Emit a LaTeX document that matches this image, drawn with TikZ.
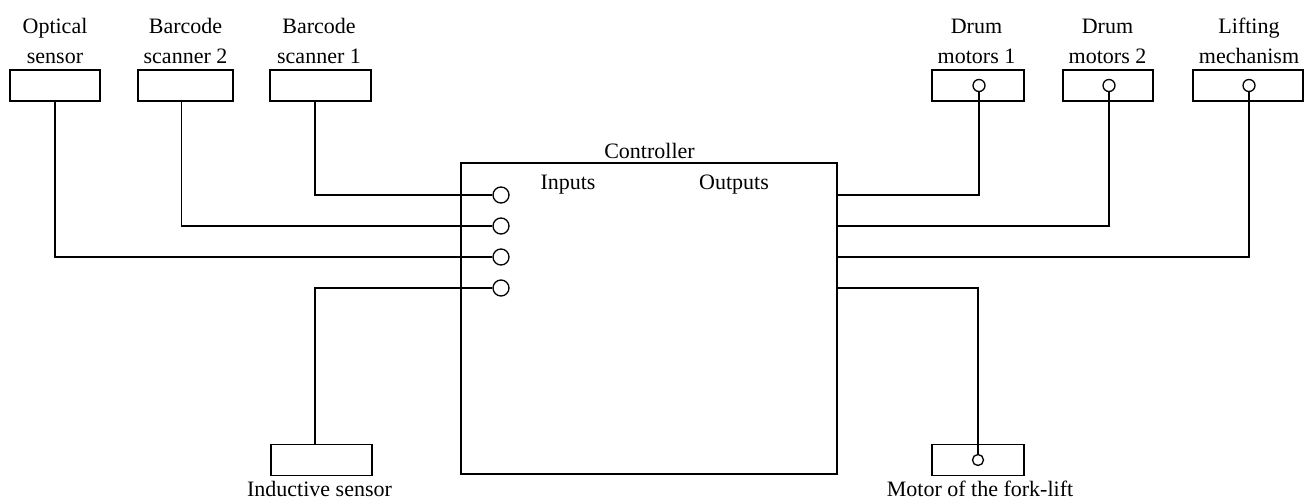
\documentclass[tikz,border=0pt]{standalone}
\usepackage{fontspec}
\setmainfont{Liberation Serif}
\begin{document}
\begin{tikzpicture}[x=1pt,y=-1pt,
  every node/.style={font=\fontsize{22}{30}\selectfont},
  box/.style={draw, line width=1.4pt, minimum height=31pt, inner sep=0pt},
  port/.style={draw, circle, line width=1.3pt, inner sep=0pt},
  wire/.style={line width=1.4pt},
  txt/.style={inner sep=0pt, align=center, anchor=base}]
\useasboundingbox (0,0) rectangle (1312,501);

% controller block
\node[draw, line width=1.4pt, minimum width=376pt, minimum height=311pt, inner sep=0pt] (ctrl) at (649,318.5) {};
\node[txt] (ctrlt) at (649.5,158) {Controller};
\node[txt] (inl) at (568,189) {Inputs};
\node[txt] (outl) at (734,189) {Outputs};

% input ports
\node[port, minimum size=16pt] (in1) at (501,195) {};
\node[port, minimum size=16pt] (in2) at (501,226) {};
\node[port, minimum size=16pt] (in3) at (501,257) {};
\node[port, minimum size=16pt] (in4) at (501,288) {};

% sensors
\node[box, minimum width=90pt] (opt) at (55,85.5) {};
\node[box, minimum width=95pt] (bs2) at (185.5,85.5) {};
\node[box, minimum width=101pt] (bs1) at (320.5,85.5) {};
\node[box, minimum width=101pt] (ind) at (321.5,460) {};
\node[txt] (optt) at (55,63) {Optical\\sensor};
\node[txt] (bs2t) at (185.5,63) {Barcode\\scanner 2};
\node[txt] (bs1t) at (319,63) {Barcode\\scanner 1};
\node[txt] (indt) at (319.5,496) {Inductive sensor};

% actuators
\node[box, minimum width=92pt] (dm1) at (978,85.5) {};
\node[box, minimum width=90pt] (dm2) at (1108,85.5) {};
\node[box, minimum width=110pt] (lm) at (1248,85.5) {};
\node[box, minimum width=92pt] (mf) at (978,460) {};
\node[port, minimum size=12pt] (dm1c) at (979,85.5) {};
\node[port, minimum size=12pt] (dm2c) at (1109,85.5) {};
\node[port, minimum size=12pt] (lmc) at (1249,85.5) {};
\node[port, minimum size=11pt] (mfc) at (978,460) {};
\node[txt] (dm1t) at (976.5,63) {Drum\\motors 1};
\node[txt] (dm2t) at (1107.5,63) {Drum\\motors 2};
\node[txt] (lmt) at (1249,63) {Lifting\\mechanism};
\node[txt] (mft) at (980,496) {Motor of the fork-lift};

% input wiring
\draw[wire] ([xshift=-5.5pt]bs1.south) |- (in1.west);
\draw[wire] ([xshift=-4pt]bs2.south) |- (in2.west);
\draw[wire] (opt.south) |- (in3.west);
\draw[wire] ([xshift=-6.5pt]ind.north) |- (in4.west);

% output wiring
\draw[wire] (ctrl.east |- in1) -| (dm1c.south);
\draw[wire] (ctrl.east |- in2) -| (dm2c.south);
\draw[wire] (ctrl.east |- in3) -| (lmc.south);
\draw[wire] (ctrl.east |- in4) -| (mfc.north);
\end{tikzpicture}
\end{document}
